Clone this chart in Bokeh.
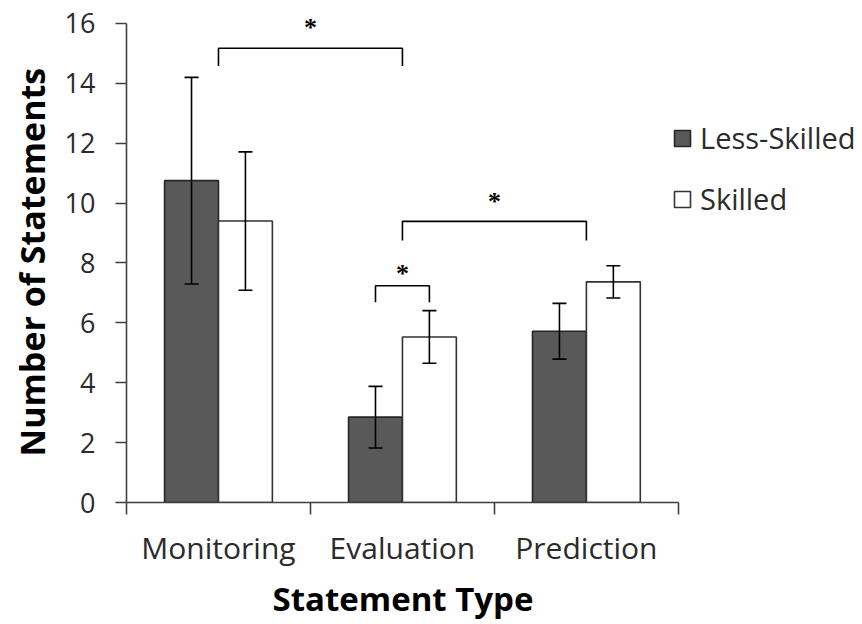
from bokeh.plotting import figure
from bokeh.models import (ColumnDataSource, Whisker, TeeHead, FixedTicker,
                          Legend, LegendItem, LabelSet, Title)
from bokeh.embed import file_html
from bokeh.resources import INLINE

# ---------------- data ----------------
categories = ["Monitoring", "Evaluation", "Prediction"]
series_names = ["Less-Skilled", "Skilled"]
less_skilled = [10.75, 2.85, 5.72]
skilled = [9.40, 5.53, 7.37]
less_skilled_err = [3.45, 1.03, 0.93]
skilled_err = [2.31, 0.88, 0.54]
y_ticks = [0, 2, 4, 6, 8, 10, 12, 14, 16]
x_title = "Statement Type"
y_title = "Number of Statements"

# significance comparisons: (category, series or None for whole category)
cmp_left_cat = ["Monitoring", "Evaluation", "Evaluation"]
cmp_left_series = [None, None, "Less-Skilled"]
cmp_right_cat = ["Evaluation", "Prediction", "Evaluation"]
cmp_right_series = [None, None, "Skilled"]
cmp_top = [15.17, 9.39, 7.24]
cmp_leg_bottom = [14.58, 8.75, 6.69]
cmp_star_level = [15.88, 10.05, 7.66]
cmp_mark = ["*", "*", "*"]

# ---------------- layout helpers ----------------
BAR_W = 0.293
OFFS = {"Less-Skilled": -BAR_W / 2, "Skilled": BAR_W / 2, None: 0.0}


def pos(cat, series=None):
    return categories.index(cat) + 0.5 + OFFS[series]


AX_COLOR = "#404040"
TXT_COLOR = "#2b2b2b"
FONT = "Open Sans"
N = len(categories)

# frame extends right (room for legend) and up (room for top star);
# axis bounds keep the axis lines to the data extent
p = figure(width=862, height=624, x_range=(0, 3.99), y_range=(0, 16.6),
           output_backend="svg", toolbar_location=None,
           min_border_left=126, min_border_right=2,
           min_border_top=5, min_border_bottom=121)
p.xgrid.visible = False
p.ygrid.visible = False
p.outline_line_color = None
p.background_fill_color = "white"
p.border_fill_color = "white"

# bars
src_less = ColumnDataSource(dict(
    x=[pos(c, "Less-Skilled") for c in categories], top=less_skilled,
    upper=[v + e for v, e in zip(less_skilled, less_skilled_err)],
    lower=[v - e for v, e in zip(less_skilled, less_skilled_err)]))
src_sk = ColumnDataSource(dict(
    x=[pos(c, "Skilled") for c in categories], top=skilled,
    upper=[v + e for v, e in zip(skilled, skilled_err)],
    lower=[v - e for v, e in zip(skilled, skilled_err)]))

r_less = p.vbar(x="x", top="top", bottom=0, width=BAR_W, source=src_less,
                fill_color="#595959", line_color="#262626", line_width=1.6)
r_sk = p.vbar(x="x", top="top", bottom=0, width=BAR_W, source=src_sk,
              fill_color="white", line_color="#333333", line_width=1.6)

for src in (src_less, src_sk):
    w = Whisker(source=src, base="x", upper="upper", lower="lower",
                line_color="black", line_width=1.6, level="annotation",
                upper_head=TeeHead(size=14, line_color="black", line_width=1.6),
                lower_head=TeeHead(size=14, line_color="black", line_width=1.6))
    p.add_layout(w)

# significance brackets
xs, ys = [], []
for lc, ls, rc, rs, t, b in zip(cmp_left_cat, cmp_left_series, cmp_right_cat,
                                cmp_right_series, cmp_top, cmp_leg_bottom):
    x0, x1 = pos(lc, ls), pos(rc, rs)
    xs.append([x0, x0, x1, x1])
    ys.append([b, t, t, b])
p.multi_line(xs, ys, line_color="black", line_width=1.6)

star_src = ColumnDataSource(dict(
    x=[(pos(lc, ls) + pos(rc, rs)) / 2 for lc, ls, rc, rs in
       zip(cmp_left_cat, cmp_left_series, cmp_right_cat, cmp_right_series)],
    y=cmp_star_level, text=cmp_mark))
p.add_layout(LabelSet(source=star_src, x="x", y="y", text="text",
                      text_align="center", text_baseline="middle",
                      text_font=FONT, text_font_size="26px",
                      text_font_style="bold", text_color="black"))

# y axis
p.yaxis.bounds = (y_ticks[0], y_ticks[-1])
p.yaxis.ticker = FixedTicker(ticks=y_ticks)
p.yaxis.major_label_text_font = FONT
p.yaxis.major_label_text_font_size = "27px"
p.yaxis.major_label_text_color = TXT_COLOR
p.yaxis.major_label_standoff = 20
p.yaxis.major_tick_in = 0
p.yaxis.major_tick_out = 11
p.yaxis.minor_tick_line_color = None
p.yaxis.axis_line_color = AX_COLOR
p.yaxis.axis_line_width = 1.6
p.yaxis.major_tick_line_color = AX_COLOR
p.yaxis.major_tick_line_width = 1.6

# x axis: labels at category centres, ticks at category boundaries
p.xaxis.bounds = (0, N)
p.xaxis.ticker = FixedTicker(ticks=[i + 0.5 for i in range(N)],
                             minor_ticks=list(range(N + 1)))
p.xaxis.major_label_overrides = {i + 0.5: c for i, c in enumerate(categories)}
p.xaxis.major_tick_line_color = None
p.xaxis.major_tick_in = 0
p.xaxis.major_tick_out = 12
p.xaxis.minor_tick_in = 0
p.xaxis.minor_tick_out = 12
p.xaxis.minor_tick_line_color = AX_COLOR
p.xaxis.minor_tick_line_width = 1.6
p.xaxis.axis_line_color = AX_COLOR
p.xaxis.axis_line_width = 1.6
p.xaxis.major_label_text_font = FONT
p.xaxis.major_label_text_font_size = "30px"
p.xaxis.major_label_text_color = TXT_COLOR
p.xaxis.major_label_standoff = 12

# axis titles (as titles so they centre on the data area, not the frame)
xt = Title(text=x_title, align="left", offset=146, standoff=7,
           text_font=FONT, text_font_size="33px", text_font_style="bold",
           text_color="black")
p.add_layout(xt, "below")
yt = Title(text=y_title, align="left", offset=46, standoff=10,
           vertical_align="top",
           text_font=FONT, text_font_size="34px", text_font_style="bold",
           text_color="black")
p.add_layout(yt, "left")

# legend
legend = Legend(items=[LegendItem(label=series_names[0], renderers=[r_less]),
                       LegendItem(label=series_names[1], renderers=[r_sk])],
                location=(546, 284), orientation="vertical",
                padding=0, margin=0, spacing=22,
                glyph_width=20, glyph_height=20, label_standoff=8,
                label_text_font=FONT, label_text_font_size="29px",
                label_text_color=TXT_COLOR,
                border_line_color=None, background_fill_alpha=0)
p.add_layout(legend)

open("out.html", "w").write(file_html(p, INLINE))
